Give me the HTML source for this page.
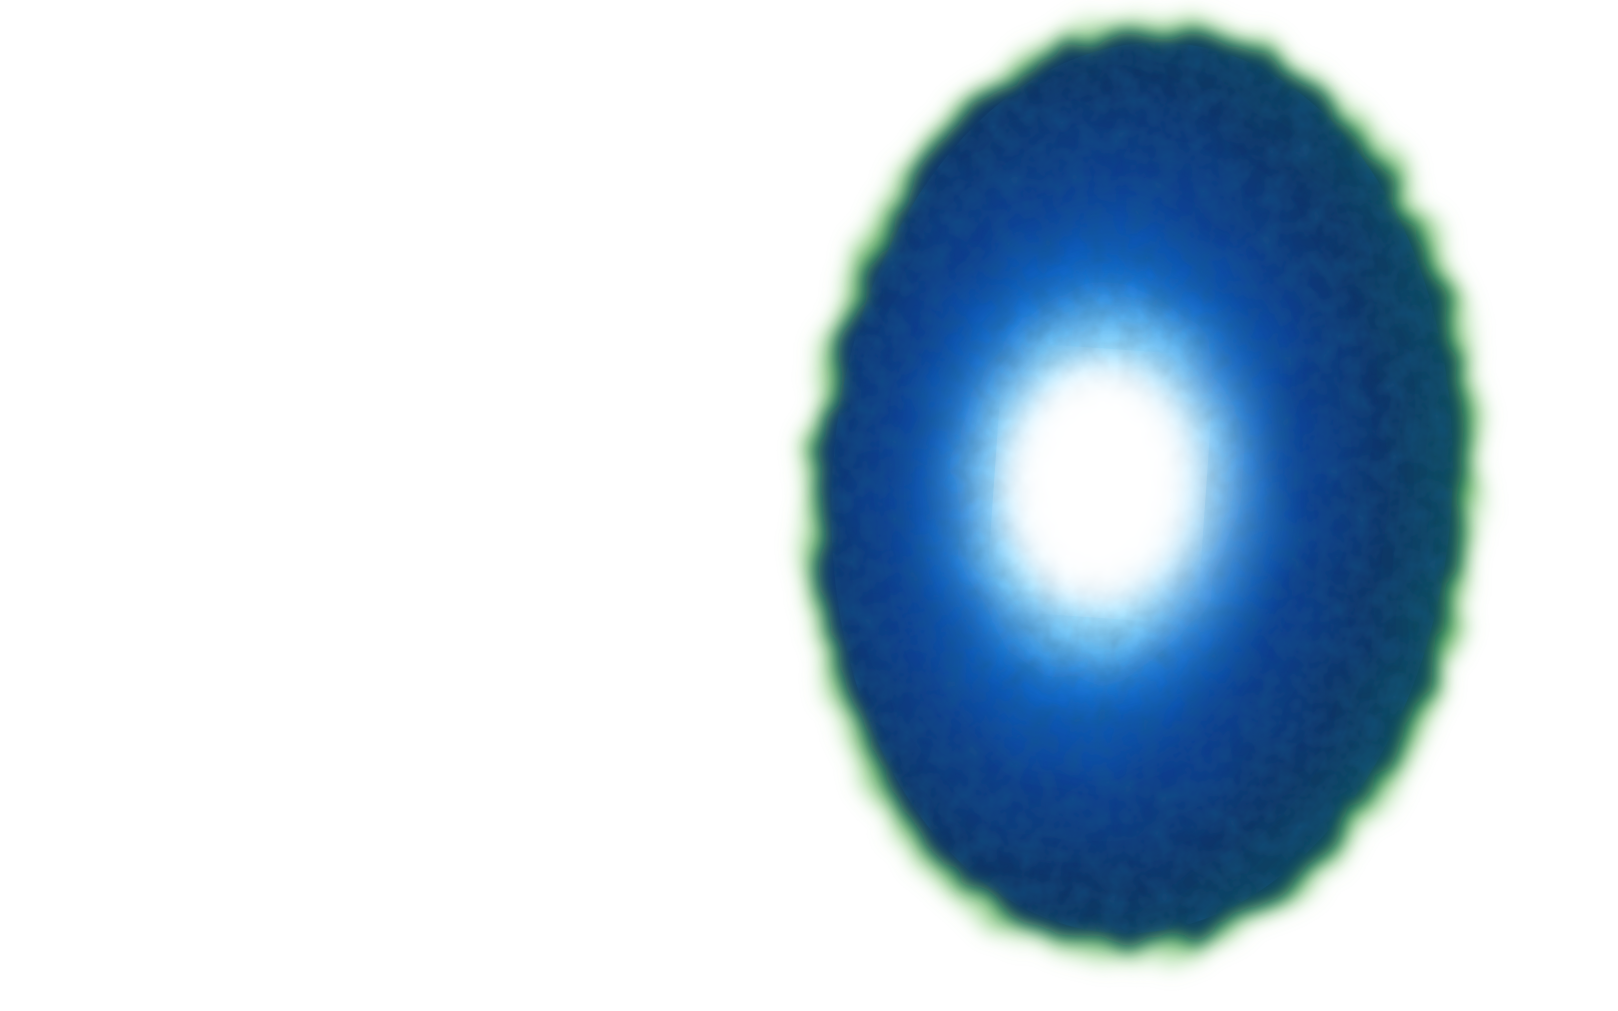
<!DOCTYPE html>
<html>
<head>
<meta charset="utf-8">
<style>
  html, body { margin: 0; padding: 0; background: #ffffff; }
  body { width: 1618px; height: 1011px; overflow: hidden; }
  svg { display: block; }
</style>
</head>
<body>
<svg width="1618" height="1011" viewBox="0 0 1618 1011">
  <defs>
    <radialGradient id="rim" cx="0.5" cy="0.5" r="0.5">
      <stop offset="0.86" stop-color="#145a30" stop-opacity="1"/>
      <stop offset="0.94" stop-color="#2e9a2e" stop-opacity="0.8"/>
      <stop offset="1" stop-color="#8fe07a" stop-opacity="0"/>
    </radialGradient>
    <radialGradient id="body" cx="0.43" cy="0.5" r="0.55">
      <stop offset="0" stop-color="#ffffff"/>
      <stop offset="0.14" stop-color="#e8fbff"/>
      <stop offset="0.26" stop-color="#4cc4ff"/>
      <stop offset="0.4" stop-color="#0e6ad0"/>
      <stop offset="0.6" stop-color="#0a3f90"/>
      <stop offset="0.82" stop-color="#0a3466"/>
      <stop offset="1" stop-color="#0e4a60"/>
    </radialGradient>
    <radialGradient id="core" cx="0.5" cy="0.5" r="0.5">
      <stop offset="0" stop-color="#ffffff" stop-opacity="1"/>
      <stop offset="0.5" stop-color="#ffffff" stop-opacity="0.85"/>
      <stop offset="1" stop-color="#8fe0ff" stop-opacity="0"/>
    </radialGradient>
    <filter id="rough" x="-10%" y="-10%" width="120%" height="120%">
      <feTurbulence type="fractalNoise" baseFrequency="0.02" numOctaves="3" seed="7" result="n"/>
      <feDisplacementMap in="SourceGraphic" in2="n" scale="30" xChannelSelector="R" yChannelSelector="G" result="d"/>
      <feGaussianBlur in="d" stdDeviation="9"/>
    </filter>
    <filter id="blur20"><feGaussianBlur stdDeviation="20"/></filter>
    <filter id="texture">
      <feTurbulence type="fractalNoise" baseFrequency="0.045" numOctaves="3" seed="4"/>
      <feColorMatrix type="matrix" values="0 0 0 0 0.01  0 0 0 0 0.1  0 0 0 0 0.25  0 0 0 1.1 -0.3"/>
      <feComposite in2="SourceGraphic" operator="in"/>
    </filter>
  </defs>
  <g transform="rotate(4 1142 488)">
    <ellipse cx="1142" cy="488" rx="346" ry="484" fill="url(#rim)" filter="url(#rough)"/>
    <ellipse cx="1142" cy="488" rx="320" ry="456" fill="url(#body)" filter="url(#rough)"/>
    <ellipse cx="1142" cy="488" rx="310" ry="446" fill="#000" filter="url(#texture)" opacity="0.7"/>
    <ellipse cx="1104" cy="488" rx="175" ry="215" fill="url(#core)" filter="url(#blur20)" opacity="0.85"/>
    <ellipse cx="1100" cy="486" rx="88" ry="112" fill="#ffffff" filter="url(#blur20)"/>
  </g>
</svg>
</body>
</html>
